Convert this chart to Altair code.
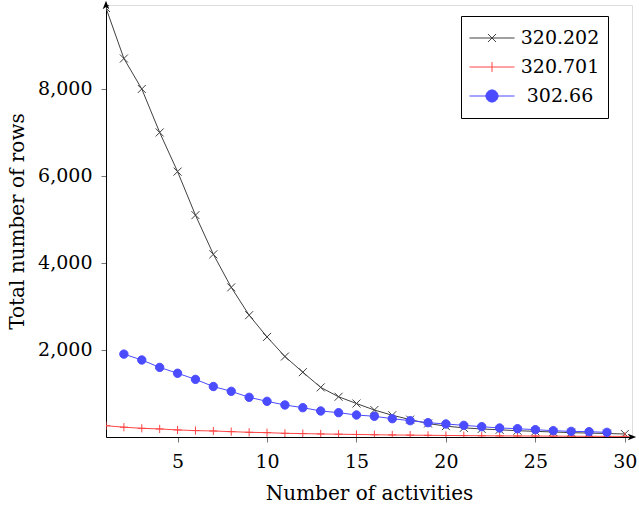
import altair as alt
import pandas as pd

# ---------------- data ----------------
series_names = ["320.202", "320.701", "302.66"]
series_colors = ["#404040", "#ff4545", "#4b4bff"]

x_320202 = list(range(1, 31))
y_320202 = [9860, 8700, 8000, 7000, 6100, 5100, 4200, 3440, 2800, 2300,
            1850, 1490, 1140, 925, 770, 620, 500, 400, 310, 250,
            210, 185, 165, 145, 130, 115, 100, 90, 80, 70]

x_320701 = list(range(1, 31))
y_320701 = [260, 225, 200, 185, 162, 147, 138, 123, 108, 100,
            85, 78, 70, 64, 58, 52, 47, 43, 39, 35,
            32, 29, 26, 24, 22, 20, 18, 16, 15, 14]

x_30266 = list(range(2, 30))
y_30266 = [1905, 1770, 1600, 1465, 1325, 1160, 1050, 912, 820, 736,
           674, 598, 559, 506, 476, 421, 375, 329, 299, 268,
           237, 207, 191, 168, 145, 130, 122, 107]

x_ticks = [5, 10, 15, 20, 25, 30]
y_ticks = [2000, 4000, 6000, 8000]

rows = []
for name, xs, ys in zip(series_names, [x_320202, x_320701, x_30266],
                        [y_320202, y_320701, y_30266]):
    for a, b in zip(xs, ys):
        rows.append({"series": name, "x": a, "y": b})
df = pd.DataFrame(rows)

# ---------------- styling ----------------
FONT = "DejaVu Serif"
FS = 19
TFS = 20
W, H = 526, 432
X_DOMAIN = [1, 30.4]
Y_DOMAIN = [0, 9930]

X_PATH = "M-1,-1L1,1M-1,1L1,-1"
PLUS_PATH = "M0,-1L0,1M-1,0L1,0"
LEG_X = "M-1,0L1,0M-0.18,-0.18L0.18,0.18M-0.18,0.18L0.18,-0.18"
LEG_PLUS = "M-1,0L1,0M0,-0.22L0,0.22"
LEG_CIRCLE = ("M-1,0L1,0M-0.27,0A0.27,0.27,0,1,1,0.27,0"
              "A0.27,0.27,0,1,1,-0.27,0Z")

xs = alt.Scale(domain=X_DOMAIN, nice=False, zero=False)
ys = alt.Scale(domain=Y_DOMAIN, nice=False, zero=False)
col_scale = alt.Scale(domain=series_names, range=series_colors)

x_enc = alt.X("x:Q", scale=xs, title="Number of activities",
              axis=alt.Axis(values=x_ticks, grid=False, domainColor="black",
                            domainWidth=1, tickColor="#777", tickSize=5,
                            labelFont=FONT, labelFontSize=FS, labelColor="black",
                            labelPadding=10, labelFlush=False, labelOverlap=False,
                            titleFont=FONT, titleFontSize=TFS,
                            titleFontWeight="normal", titleColor="black",
                            titlePadding=12))
y_enc = alt.Y("y:Q", scale=ys, title="Total number of rows",
              axis=alt.Axis(values=y_ticks, format=",d", grid=False,
                            domainColor="black", domainWidth=1, tickColor="#777",
                            tickSize=5, labelFont=FONT, labelFontSize=FS,
                            labelColor="black", labelPadding=9,
                            labelOverlap=False,
                            titleFont=FONT, titleFontSize=TFS,
                            titleFontWeight="normal", titleColor="black",
                            titlePadding=10))

base = alt.Chart(df)

lines = base.mark_line(strokeWidth=1, clip=True).encode(
    x=x_enc, y=y_enc,
    stroke=alt.Stroke("series:N", scale=col_scale, legend=None),
)

points = base.mark_point(filled=True, strokeWidth=1, opacity=1, clip=True).encode(
    x="x:Q", y="y:Q",
    shape=alt.Shape("series:N", scale=alt.Scale(domain=series_names,
                    range=[X_PATH, PLUS_PATH, "circle"]), legend=None),
    fill=alt.Fill("series:N", scale=col_scale, legend=None),
    stroke=alt.Stroke("series:N", scale=col_scale, legend=None),
    size=alt.Size("series:O", scale=alt.Scale(domain=series_names,
                  range=[64, 70, 100]), legend=None),
)

leg = alt.Legend(orient="none", legendX=355, legendY=11, title=None,
                 padding=8, clipHeight=28, rowPadding=1, symbolSize=2025,
                 symbolStrokeWidth=1, labelFont=FONT, labelFontSize=FS,
                 labelColor="black", labelAlign="center", labelOffset=45,
                 strokeColor="black", fillColor="white", cornerRadius=0)

legend_layer = base.mark_point(filled=True, strokeWidth=1, opacity=1,
                               size=2025).encode(
    x="x:Q", y="y:Q",
    shape=alt.Shape("series:N", scale=alt.Scale(domain=series_names,
                    range=[LEG_X, LEG_PLUS, LEG_CIRCLE]), legend=leg),
    fill=alt.Fill("series:N", scale=col_scale, legend=leg),
    stroke=alt.Stroke("series:N", scale=col_scale, legend=leg),
).transform_filter("datum.y < 0")

ARROW = "M-1,-0.8L1,0L-1,0.8L-0.5,0Z"
arrow_x = base.mark_point(shape=ARROW, filled=True, color="black", opacity=1,
                          size=70, clip=False).encode(
    x=alt.value(W), y=alt.value(H)).transform_filter("datum.x == 1 && datum.series == '320.202'")
arrow_y = base.mark_point(shape=ARROW, filled=True, color="black", opacity=1,
                          size=70, angle=270, clip=False).encode(
    x=alt.value(0), y=alt.value(0)).transform_filter("datum.x == 1 && datum.series == '320.202'")

chart = alt.layer(lines, points, legend_layer, arrow_x, arrow_y).resolve_scale(
    shape="independent", fill="independent", stroke="independent",
    size="independent"
).properties(
    width=W, height=H,
    autosize=alt.AutoSizeParams(type="none"),
    padding={"left": 106, "top": 5, "right": 7, "bottom": 73},
).configure_view(stroke=None).configure(background="white")

chart.save("out.html", embed_options={"renderer": "svg", "actions": False})
